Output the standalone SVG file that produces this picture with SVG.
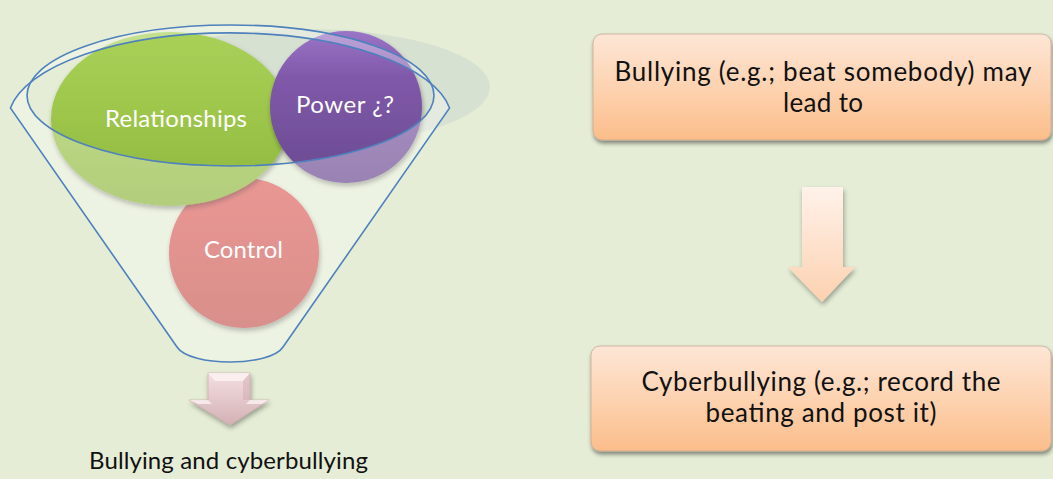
<svg xmlns="http://www.w3.org/2000/svg" width="1053" height="479" viewBox="0 0 1053 479">
<style>
.lbl{font-family:Lato,"Open Sans","Liberation Sans",sans-serif;font-size:26px;text-anchor:middle}
.sm{font-size:24px}
.w{fill:#ffffff}
.k{fill:#111111}
.rim{fill:none;stroke:#4f81bd;stroke-width:1.6}
.box{stroke:#c8aa92;stroke-width:0.8;filter:url(#sh)}
</style>
<defs>
<filter id="sh" x="-10%" y="-10%" width="125%" height="130%">
<feGaussianBlur in="SourceAlpha" stdDeviation="2"/>
<feOffset dx="1" dy="3" result="b"/>
<feComponentTransfer><feFuncA type="linear" slope="0.45"/></feComponentTransfer>
<feMerge><feMergeNode/><feMergeNode in="SourceGraphic"/></feMerge>
</filter>
<filter id="shs" x="-20%" y="-20%" width="140%" height="140%">
<feGaussianBlur in="SourceAlpha" stdDeviation="2.5"/>
<feOffset dx="1" dy="3" result="b"/>
<feComponentTransfer><feFuncA type="linear" slope="0.35"/></feComponentTransfer>
<feMerge><feMergeNode/><feMergeNode in="SourceGraphic"/></feMerge>
</filter>
<linearGradient id="gBox" x1="0" y1="0" x2="0" y2="1">
<stop offset="0" stop-color="#fde6d6"/>
<stop offset="0.55" stop-color="#fdd1ad"/>
<stop offset="1" stop-color="#fbbd8a"/>
</linearGradient>
<linearGradient id="gArr" x1="0" y1="0" x2="0" y2="1">
<stop offset="0" stop-color="#fff2ea"/>
<stop offset="1" stop-color="#fcd1b0"/>
</linearGradient>
<linearGradient id="gPink" x1="0" y1="0" x2="0" y2="1">
<stop offset="0" stop-color="#f3dfe1"/>
<stop offset="1" stop-color="#d4b1b5"/>
</linearGradient>
<linearGradient id="gGreen" x1="0" y1="0" x2="0" y2="1">
<stop offset="0" stop-color="#a9d159"/>
<stop offset="0.5" stop-color="#9cc54a"/>
<stop offset="1" stop-color="#8eb63f"/>
</linearGradient>
<linearGradient id="gPurple" x1="0" y1="0" x2="0" y2="1">
<stop offset="0" stop-color="#9a74c6"/>
<stop offset="0.3" stop-color="#8059aa"/>
<stop offset="1" stop-color="#6a4a90"/>
</linearGradient>
<linearGradient id="gRed" x1="0" y1="0" x2="0" y2="1">
<stop offset="0" stop-color="#e06660"/>
<stop offset="1" stop-color="#c75a55"/>
</linearGradient>
</defs>

<rect width="1053" height="479" fill="#e5edd6"/>

<g id="funnel-shadow">
<ellipse cx="305" cy="87" rx="185" ry="58" fill="#bccccc" fill-opacity="0.35"/>
</g>

<g id="control">
<circle cx="244" cy="253" r="75" fill="url(#gRed)" filter="url(#shs)"/>
</g>
<g id="relationships">
<ellipse cx="170" cy="119" rx="119" ry="87" fill="url(#gGreen)" filter="url(#shs)"/>
</g>
<g id="power">
<circle cx="346" cy="107" r="76" fill="url(#gPurple)" filter="url(#shs)"/>
</g>

<g id="funnel">
<path d="M10.4,108 A222,88 0 0 1 449.6,108 L283,347 C270,367 190,367 177,347 Z M27,95.5 A203.5,70.5 0 0 0 434,95.5 A203.5,70.5 0 0 0 27,95.5 Z" fill="#ffffff" fill-opacity="0.32" fill-rule="evenodd"/>
<path class="rim" d="M10.4,108 A222,88 0 0 1 449.6,108 L283,347 C270,367 190,367 177,347 Z"/>
<ellipse class="rim" cx="230.5" cy="95.5" rx="203.5" ry="70.5"/>
</g>

<g id="labels-funnel">
<text class="lbl sm w" x="176" y="127" textLength="142">Relationships</text>
<text class="lbl sm w" x="345" y="113" textLength="98">Power ¿?</text>
<text class="lbl sm w" x="243.5" y="258" textLength="79">Control</text>
</g>

<g id="connectors">
<g id="arrow-funnel" filter="url(#shs)">
<path d="M208,373 H250 V400 H269 L230,425 L189,400 H208 Z" fill="url(#gPink)" stroke="#c9a4a8" stroke-width="0.6"/>
<path d="M208,373 H250 L243,381 H215 Z" fill="#fbf1f2" fill-opacity="0.85"/>
<path d="M189,400 H208 L212,404 H198 Z" fill="#fbf1f2" fill-opacity="0.8"/>
<path d="M269,400 H250 L246,404 H262 Z" fill="#fbf1f2" fill-opacity="0.8"/>
<path d="M250,373 V400 L243,400 V381 Z" fill="#c99ea3" fill-opacity="0.35"/>
</g>
<path id="arrow-right" d="M802,187 H843 V267 H855 L822,302 L788,267 H802 Z" fill="url(#gArr)" filter="url(#shs)"/>
</g>

<g id="result">
<text class="lbl sm k" x="228.5" y="469" textLength="279">Bullying and cyberbullying</text>
</g>

<g id="box-bullying">
<rect class="box" x="593" y="34" width="458" height="106" rx="9" fill="url(#gBox)"/>
<text class="lbl k" x="823" y="81" textLength="417">Bullying (e.g.; beat somebody) may</text>
<text class="lbl k" x="823" y="112" textLength="80">lead to</text>
</g>

<g id="box-cyberbullying">
<rect class="box" x="591" y="346" width="460" height="105" rx="9" fill="url(#gBox)"/>
<text class="lbl k" x="821" y="391" textLength="359">Cyberbullying (e.g.; record the</text>
<text class="lbl k" x="821" y="422" textLength="231">beating and post it)</text>
</g>
</svg>
